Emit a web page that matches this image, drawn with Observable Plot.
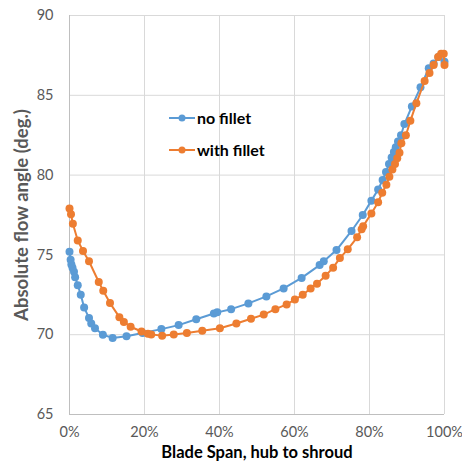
<!DOCTYPE html>
<html>
<head>
<meta charset="utf-8">
<script src="https://cdn.jsdelivr.net/npm/d3@7"></script>
<script src="https://cdn.jsdelivr.net/npm/@observablehq/plot@0.6"></script>
<style>
  html, body { margin: 0; padding: 0; background: white; }
</style>
</head>
<body>
<div id="chart"></div>
<script>
const seriesNames = ["no fillet", "with fillet"];
const seriesColors = ["#5b9bd5", "#ed7d31"];

const spanNoFillet = [0, 0.3, 0.5, 0.8, 1.2, 1.5, 2.2, 3.0, 3.9, 5.2, 5.8, 6.8, 8.9, 11.5, 15.2, 19.5, 24.5, 29.1, 33.8, 38.5, 39.4, 43.1, 47.7, 52.5, 57.1, 61.9, 66.7, 67.8, 71.2, 75.2, 78.2, 80.5, 82.3, 83.5, 84.4, 85.2, 85.9, 86.5, 87.0, 87.6, 88.4, 89.3, 91.3, 93.6, 95.8, 97.1, 98.4, 100];
const angleNoFillet = [75.2, 74.7, 74.4, 74.2, 73.95, 73.6, 73.1, 72.5, 71.7, 71.05, 70.7, 70.4, 70.0, 69.8, 69.9, 70.1, 70.35, 70.6, 70.97, 71.33, 71.4, 71.6, 71.96, 72.4, 72.9, 73.56, 74.36, 74.6, 75.3, 76.5, 77.5, 78.4, 79.1, 79.7, 80.2, 80.7, 81.1, 81.45, 81.75, 82.1, 82.5, 83.2, 84.3, 85.5, 86.7, 87.0, 87.4, 87.1];

const spanWithFillet = [0, 0.4, 0.9, 2.2, 3.6, 5.2, 7.8, 9.0, 10.8, 13.3, 14.5, 16.3, 19.2, 20.9, 21.8, 24.7, 27.8, 31.3, 35.4, 40.1, 44.5, 48.4, 51.8, 54.9, 57.9, 60.1, 62.2, 64.3, 66.0, 68.3, 70.3, 72.1, 74.2, 76.7, 77.9, 78.3, 80.5, 82.3, 83.4, 84.5, 85.3, 86.1, 86.8, 87.4, 88.0, 88.5, 89.7, 90.9, 92.5, 94.7, 96.0, 97.1, 98.3, 99.1, 99.8, 100];
const angleWithFillet = [77.9, 77.55, 76.95, 75.9, 75.25, 74.6, 73.3, 72.75, 71.98, 71.1, 70.8, 70.5, 70.2, 70.06, 70.02, 69.94, 70.02, 70.1, 70.25, 70.4, 70.7, 71.0, 71.26, 71.6, 71.9, 72.2, 72.5, 72.9, 73.2, 73.7, 74.2, 74.8, 75.35, 76.1, 76.6, 76.8, 77.6, 78.3, 78.9, 79.4, 79.9, 80.35, 80.7, 81.05, 81.4, 82.0, 82.5, 83.4, 84.5, 85.9, 86.4, 86.9, 87.4, 87.6, 87.6, 86.9];

const xTicks = [0, 20, 40, 60, 80, 100];
const yTicks = [65, 70, 75, 80, 85, 90];
const xTitle = "Blade Span, hub to shroud";
const yTitle = "Absolute flow angle (deg.)";

const noFillet = spanNoFillet.map((s, i) => ({span: s, angle: angleNoFillet[i]}));
const withFillet = spanWithFillet.map((s, i) => ({span: s, angle: angleWithFillet[i]}));

const font = "Lato, 'Open Sans', sans-serif";

const chart = Plot.plot({
  width: 462,
  height: 469,
  marginLeft: 69,
  marginRight: 18,
  marginTop: 15,
  marginBottom: 55,
  style: {fontFamily: font, fontSize: "14px", color: "#595959", background: "white"},
  x: {domain: [0, 100]},
  y: {domain: [65, 90]},
  marks: [
    Plot.gridX(xTicks, {stroke: "#d9d9d9", strokeOpacity: 1, strokeWidth: 1}),
    Plot.gridY(yTicks, {stroke: "#d9d9d9", strokeOpacity: 1, strokeWidth: 1}),
    Plot.ruleX([0], {stroke: "#bfbfbf", strokeWidth: 1}),
    Plot.ruleY([65], {stroke: "#bfbfbf", strokeWidth: 1}),
    Plot.axisX(xTicks, {tickSize: 0, tickPadding: 12, label: null, tickFormat: d => d + "%", fontSize: 14.5, fill: "#595959"}),
    Plot.axisY(yTicks, {tickSize: 0, tickPadding: 16, label: null, fontSize: 14.5, fill: "#595959"}),
    Plot.line(noFillet, {x: "span", y: "angle", stroke: seriesColors[0], strokeWidth: 2}),
    Plot.dot(noFillet, {x: "span", y: "angle", r: 4, fill: seriesColors[0], stroke: "none"}),
    Plot.line(withFillet, {x: "span", y: "angle", stroke: seriesColors[1], strokeWidth: 2}),
    Plot.dot(withFillet, {x: "span", y: "angle", r: 4, fill: seriesColors[1], stroke: "none"}),
    Plot.text([xTitle], {frameAnchor: "bottom", dy: 43, fontWeight: "bold", fontSize: 16.5, fill: "#000"}),
    Plot.text([yTitle], {frameAnchor: "left", textAnchor: "middle", dx: -47, rotate: -90, fontWeight: "bold", fontSize: 18.5, fill: "#595959"})
  ]
});

document.getElementById("chart").appendChild(chart);

// Legend inside the plot area
const svg = d3.select(chart);
const legend = svg.append("g").attr("font-family", font).attr("text-anchor", "start");
seriesNames.forEach((name, i) => {
  const y = 118 + i * 32;
  legend.append("line").attr("x1", 169).attr("x2", 195).attr("y1", y).attr("y2", y)
    .attr("stroke", seriesColors[i]).attr("stroke-width", 2);
  legend.append("circle").attr("cx", 182).attr("cy", y).attr("r", 3.5).attr("fill", seriesColors[i]);
  legend.append("text").attr("x", 197).attr("y", y).attr("dy", "0.35em").attr("text-anchor", "start")
    .attr("font-size", 16).attr("font-weight", "bold").attr("fill", "#000").text(name);
});
</script>
</body>
</html>
